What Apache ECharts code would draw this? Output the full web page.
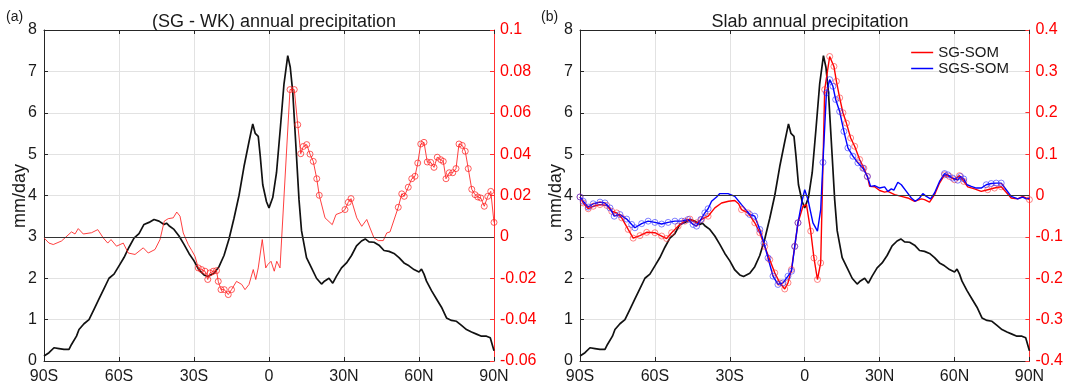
<!DOCTYPE html>
<html>
<head>
<meta charset="utf-8">
<script src="https://cdn.jsdelivr.net/npm/echarts@6/dist/echarts.min.js"></script>
<style>
  html, body { margin: 0; background: #fff; }
  #chart { width: 1066px; height: 385px; }
</style>
</head>
<body>
<div id="chart"></div>
<script>
// zonal mean annual precipitation (mm/day), same curve in both panels
const precip = [[-90,0.12],[-88,0.2],[-86,0.32],[-84,0.3],[-82,0.28],[-80,0.28],[-79,0.4],[-77,0.6],[-76,0.76],[-74,0.9],[-72,1.0],[-70,1.25],[-68,1.5],[-66,1.75],[-64,2.0],[-62,2.1],[-60,2.3],[-58,2.5],[-56,2.75],[-54,2.97],[-52,3.08],[-50,3.3],[-48,3.35],[-46,3.42],[-44,3.38],[-42,3.3],[-41,3.33],[-40,3.27],[-38,3.18],[-36,3.02],[-34,2.82],[-32,2.6],[-30,2.42],[-28,2.2],[-26,2.08],[-24.5,2.04],[-22,2.12],[-20,2.28],[-18,2.55],[-16,2.95],[-14,3.45],[-12,4.0],[-10,4.7],[-8,5.3],[-6.5,5.73],[-5.5,5.5],[-4.3,5.43],[-3.5,4.95],[-2.5,4.26],[-1,3.85],[0,3.7],[1.5,3.95],[3,4.55],[4.5,5.6],[6,6.7],[7.5,7.38],[8.5,7.1],[9.5,6.5],[11,4.95],[12,3.9],[13,3.15],[15,2.5],[17,2.25],[19,2.0],[21,1.86],[22,1.92],[24,2.0],[25.5,1.88],[27,2.05],[29,2.25],[31,2.37],[33,2.55],[35,2.78],[37,2.9],[38.5,2.95],[40,2.88],[42,2.87],[44,2.8],[46,2.67],[48,2.65],[50,2.6],[52,2.5],[54,2.37],[56,2.3],[58,2.21],[60,2.15],[61,2.22],[62,2.1],[63,1.93],[65,1.7],[67,1.5],[69,1.3],[71,1.04],[73,0.98],[75,0.96],[77,0.86],[79,0.76],[81,0.7],[83,0.65],[85,0.6],[87,0.6],[88.5,0.56],[90,0.25]];

// (a) SG - WK difference, right axis
const diffSgWk = [[-90,-0.0005],[-88,-0.003],[-86.3,-0.0037],[-83,-0.002],[-79,0.0024],[-77.6,0.0014],[-76.3,0.004],[-74.3,0.0014],[-71,0.002],[-68.5,0.0035],[-66.3,-0.0005],[-64.5,-0.003],[-63.2,-0.0013],[-61,-0.0045],[-58.3,-0.003],[-56.3,-0.0078],[-53.6,-0.0085],[-50.3,-0.0053],[-48.3,-0.0078],[-45.6,-0.0061],[-43.6,-0.0013],[-41.9,0.0076],[-40.3,0.0088],[-38.3,0.0092],[-36.9,0.012],[-35.6,0.01],[-34.3,0.0019],[-32.3,-0.0037],[-30.9,-0.0066],[-29.6,-0.0094],[-28.3,-0.015],[-27,-0.0158],[-25.6,-0.0166],[-24.5,-0.0206],[-23.6,-0.0174],[-22.3,-0.0166],[-21,-0.0163],[-20.3,-0.0215],[-19.2,-0.0255],[-17.9,-0.0255],[-16.3,-0.0279],[-15,-0.0255],[-13,-0.0215],[-10.9,-0.023],[-9.6,-0.0255],[-8,-0.023],[-6.3,-0.0158],[-5.3,-0.0206],[-4.3,-0.015],[-2.7,-0.0013],[-1.3,-0.015],[-0.5,-0.0134],[0.8,-0.0118],[2.1,-0.0166],[3.1,-0.0118],[4.4,-0.015],[5.1,-0.0158],[8.4,0.0712],[10.1,0.0712],[11.5,0.0542],[12.7,0.0402],[13.7,0.0437],[15.1,0.0446],[16.4,0.04],[17.7,0.0365],[19.1,0.0281],[20.1,0.0201],[22.4,0.0092],[25.3,0.0059],[26.8,0.0108],[29.1,0.0119],[30.4,0.0132],[31.7,0.0167],[32.8,0.0185],[35.1,0.0092],[37.1,0.0051],[39.1,0.0084],[40.4,0.0043],[42,-0.0005],[43.7,-0.0018],[45.7,-0.0018],[47.1,0.0019],[48.4,0.0024],[51.7,0.0143],[53.1,0.0208],[54.1,0.0196],[55.7,0.024],[57.1,0.0281],[58.4,0.0293],[59.5,0.0357],[60.7,0.0449],[62,0.0457],[63.3,0.0362],[64.7,0.036],[66,0.0336],[67.3,0.0385],[68.7,0.0373],[69.7,0.0365],[70.8,0.0281],[72.1,0.031],[73.5,0.031],[74.8,0.033],[76,0.0449],[77.3,0.0442],[78.5,0.0414],[79.7,0.033],[81.1,0.023],[82.4,0.0204],[83.5,0.0193],[84.7,0.0188],[86.1,0.0148],[87.5,0.0196],[88.7,0.022],[90,0.007]];
const sigSgWk = [[-28.5,-14.9],[8,20.5],[30,33],[51,90]];

// (b) slab ocean runs, right axis
const diffSgSom = [[-90,-0.0035],[-88.7,-0.018],[-86.7,-0.032],[-84.7,-0.026],[-82,-0.022],[-79.3,-0.024],[-77.3,-0.038],[-75.3,-0.042],[-73.3,-0.054],[-70.7,-0.082],[-68.7,-0.103],[-66,-0.097],[-63.3,-0.089],[-60,-0.09],[-57.3,-0.098],[-55.3,-0.104],[-53.3,-0.09],[-50.7,-0.074],[-48,-0.062],[-46,-0.057],[-43.3,-0.066],[-41.3,-0.058],[-38.7,-0.05],[-36,-0.03],[-33.3,-0.018],[-30.5,-0.014],[-28,-0.012],[-26.5,-0.02],[-25.3,-0.034],[-22.7,-0.042],[-20,-0.066],[-18,-0.09],[-16,-0.123],[-14,-0.155],[-12,-0.187],[-10,-0.211],[-8,-0.226],[-6.7,-0.211],[-5.3,-0.179],[-4,-0.123],[-2.7,-0.066],[-0.7,-0.026],[0.7,-0.022],[2.4,-0.086],[3.7,-0.151],[5.1,-0.203],[6.4,-0.163],[8,0.256],[10,0.336],[11.7,0.312],[12.7,0.276],[14,0.236],[15.3,0.2],[16.7,0.175],[18.4,0.139],[20,0.119],[22,0.087],[23.7,0.066],[25.1,0.046],[26,0.022],[28,0.021],[30,0.012],[32,0.008],[33.3,0.01],[36,0.002],[38.7,-0.002],[41.3,-0.006],[44,-0.014],[46.7,-0.008],[48,-0.01],[50,-0.016],[52,0.002],[54,0.03],[56,0.05],[58,0.046],[60,0.038],[62,0.048],[63.7,0.034],[65.3,0.021],[68,0.016],[70.7,0.01],[73.3,0.014],[76,0.018],[78.7,0.021],[80.7,0.008],[82.7,-0.006],[85.3,-0.008],[87.3,-0.002],[90,-0.01]];
const sigSgSom = [[-90,-38],[-26,-2],[2,25.5],[55,64],[72,79],[89,90]];

const diffSgsSom = [[-90,-0.0035],[-88.7,-0.014],[-86.7,-0.028],[-84.7,-0.02],[-82,-0.016],[-80,-0.018],[-78,-0.03],[-76.3,-0.05],[-74,-0.046],[-71.3,-0.057],[-69.3,-0.07],[-68,-0.078],[-65.3,-0.068],[-62.7,-0.062],[-60,-0.065],[-57.3,-0.069],[-54.7,-0.065],[-52,-0.062],[-49.3,-0.062],[-46.7,-0.058],[-44.7,-0.07],[-43.3,-0.074],[-41.6,-0.058],[-40,-0.042],[-38.7,-0.032],[-37.3,-0.014],[-35.3,-0.0035],[-34,0.0046],[-30.7,0.0046],[-28,-0.002],[-25.3,-0.022],[-22,-0.046],[-20,-0.05],[-18,-0.082],[-16.3,-0.115],[-14.7,-0.151],[-12.7,-0.195],[-10.7,-0.215],[-8.7,-0.211],[-6.7,-0.195],[-5.3,-0.183],[-4,-0.123],[-2.7,-0.066],[-1.1,-0.014],[0,0.014],[1.3,-0.01],[3.3,-0.066],[5.1,-0.086],[6.4,-0.034],[7.3,0.08],[8.7,0.248],[10,0.28],[11.3,0.264],[12.4,0.232],[14,0.203],[15.7,0.155],[17.3,0.115],[19.3,0.095],[21.3,0.079],[23.3,0.066],[25.1,0.046],[26.4,0.022],[28,0.024],[30,0.018],[32,0.021],[33.3,0.01],[34.7,0.016],[35.7,0.013],[37.3,0.032],[38.7,0.026],[40.7,0.01],[42.7,-0.006],[44.3,-0.014],[46,-0.006],[47.3,0.0046],[48.7,-0.002],[50.4,-0.008],[52,0.006],[54,0.034],[56,0.053],[57.3,0.05],[59.3,0.042],[61.3,0.037],[62.4,0.046],[63.7,0.04],[65,0.026],[66.7,0.022],[68.7,0.018],[70.7,0.018],[72.7,0.026],[74.7,0.029],[76.7,0.03],[78.7,0.03],[80.7,0.014],[82.7,-0.002],[85.3,-0.008],[87.3,-0.004],[88.7,-0.008],[90,-0.006]];
const sigSgsSom = [[-90,-38],[-23,-2.5],[7,25.5],[55,64],[72,79]];

const titles = ['(SG - WK) annual precipitation', 'Slab annual precipitation'];
const panelTags = ['(a)', '(b)'];
// right axis [min, max, interval] per panel
const rightRanges = [[-0.06, 0.1, 0.02], [-0.4, 0.4, 0.1]];

const FONT = '"Liberation Sans", Arial, sans-serif';
const INK = '#1a1a1a';
const RED = '#ff0000';
const BLUE = '#0000ff';
const GRIDC = '#e2e2e2';

const grids = [
  { left: 44, right: 572, top: 30, bottom: 23.5 },
  { left: 580, right: 36, top: 30, bottom: 23.5 },
];
const centers = [269, 805];

function latLabel(v) {
  if (v === 0) return '0';
  return Math.abs(v) + (v < 0 ? 'S' : 'N');
}

// points inside the significance bands get a circle
function marked(points, ranges) {
  return points.filter(p => ranges.some(r => p[0] >= r[0] && p[0] <= r[1]));
}

const xAxis = [];
const yAxis = [];
grids.forEach((g, i) => {
  xAxis.push({
    type: 'value', gridIndex: i, min: -90, max: 90, interval: 30, position: 'bottom',
    axisLine: { show: true, onZero: false, lineStyle: { color: '#262626', width: 1 } },
    axisTick: { show: true, inside: true, length: 4, lineStyle: { color: '#262626' } },
    axisLabel: { formatter: latLabel, color: INK, fontSize: 16, fontFamily: FONT, margin: 8 },
    splitLine: { show: true, lineStyle: { color: GRIDC } },
  });
  xAxis.push({
    type: 'value', gridIndex: i, min: -90, max: 90, interval: 30, position: 'top',
    axisLine: { show: true, onZero: false, lineStyle: { color: '#262626', width: 1 } },
    axisTick: { show: true, inside: true, length: 4, lineStyle: { color: '#262626' } },
    axisLabel: { show: false },
    splitLine: { show: false },
  });
  yAxis.push({
    type: 'value', gridIndex: i, min: 0, max: 8, interval: 1, position: 'left',
    axisLine: { show: true, onZero: false, lineStyle: { color: '#262626' } },
    axisTick: { show: true, inside: true, length: 4, lineStyle: { color: '#262626' } },
    axisLabel: { color: INK, fontSize: 16, fontFamily: FONT, margin: 7 },
    splitLine: { show: true, lineStyle: { color: GRIDC } },
  });
  const r = rightRanges[i];
  yAxis.push({
    type: 'value', gridIndex: i, min: r[0], max: r[1], interval: r[2], position: 'right',
    axisLine: { show: true, onZero: false, lineStyle: { color: '#ff3030' } },
    axisTick: { show: true, inside: true, length: 4, lineStyle: { color: '#ff3030' } },
    axisLabel: { color: RED, fontSize: 16, fontFamily: FONT, margin: 6,
      formatter: v => String(+v.toFixed(2)) },
    splitLine: { show: false },
  });
});

const zeroLine = {
  silent: true, symbol: ['none', 'none'], label: { show: false },
  lineStyle: { color: '#333', width: 1, type: 'solid' },
  emphasis: { disabled: true },
  data: [{ yAxis: 0 }],
};

function blackLine(i) {
  return {
    type: 'line', xAxisIndex: 2 * i, yAxisIndex: 2 * i, data: precip,
    symbol: 'none', lineStyle: { color: '#111', width: 1.7 }, z: 3,
  };
}

function diffLine(name, i, data, color, width, withZero) {
  const s = {
    name, type: 'line', xAxisIndex: 2 * i, yAxisIndex: 2 * i + 1, data,
    symbol: 'none', lineStyle: { color, width }, itemStyle: { color }, z: 4,
  };
  if (withZero) s.markLine = zeroLine;
  return s;
}

function circles(i, data, ranges, color) {
  return {
    type: 'scatter', xAxisIndex: 2 * i, yAxisIndex: 2 * i + 1,
    data: marked(data, ranges), symbol: 'circle', symbolSize: 6,
    itemStyle: { color: 'rgba(0,0,0,0)', borderColor: color, borderWidth: 1 }, z: 5,
  };
}

const series = [
  blackLine(0),
  diffLine('SG-WK', 0, diffSgWk, 'rgba(255,30,30,0.85)', 1, true),
  circles(0, diffSgWk, sigSgWk, 'rgba(255,30,30,0.9)'),
  blackLine(1),
  diffLine('SG-SOM', 1, diffSgSom, RED, 1.4, true),
  circles(1, diffSgSom, sigSgSom, 'rgba(255,40,40,0.7)'),
  diffLine('SGS-SOM', 1, diffSgsSom, BLUE, 1.4, false),
  circles(1, diffSgsSom, sigSgsSom, 'rgba(30,30,255,0.7)'),
];

const graphic = [];
grids.forEach((g, i) => {
  graphic.push({
    type: 'text', left: i === 0 ? 6 : 541, top: 10,
    style: { text: panelTags[i], font: '14px ' + FONT, fill: INK },
  });
  graphic.push({
    type: 'text', x: i === 0 ? 20 : 556, y: 196, rotation: Math.PI / 2,
    style: { text: 'mm/day', font: '18px ' + FONT, fill: INK, align: 'center', verticalAlign: 'middle' },
  });
});

const option = {
  animation: false,
  backgroundColor: '#fff',
  title: titles.map((t, i) => ({
    text: t, left: centers[i], top: 8, textAlign: 'center',
    textStyle: { fontSize: 18, fontWeight: 'normal', fontFamily: FONT, color: INK },
  })),
  legend: {
    data: ['SG-SOM', 'SGS-SOM'], orient: 'vertical', right: 52, top: 40,
    icon: 'rect', itemWidth: 22, itemHeight: 1.5, itemGap: 1,
    textStyle: { fontSize: 15, fontFamily: FONT, color: INK },
  },
  grid: grids,
  xAxis,
  yAxis,
  series,
  graphic,
};

const chart = echarts.init(document.getElementById('chart'), null, { renderer: 'canvas' });
chart.setOption(option);
</script>
</body>
</html>
